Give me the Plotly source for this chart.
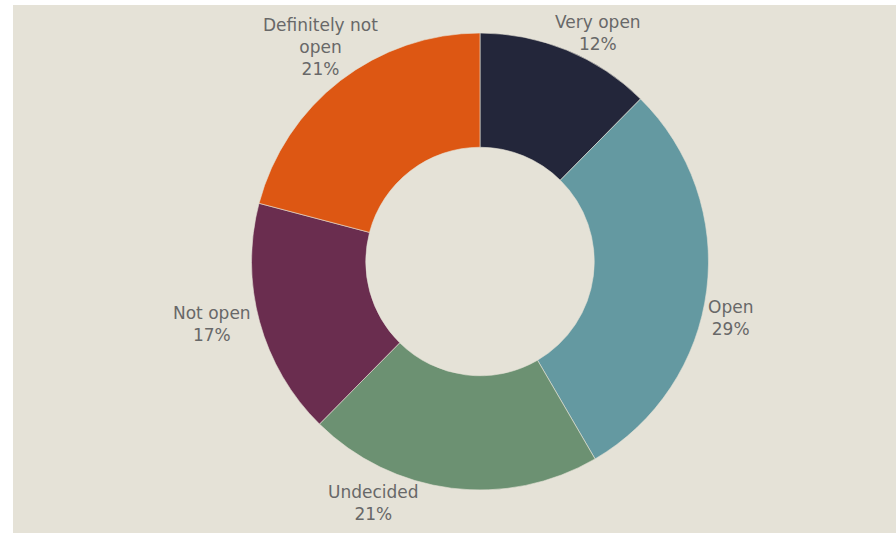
import plotly.graph_objects as go

labels = ["Very open", "Open", "Undecided", "Not open", "Definitely not<br>open"]
values = [12.4, 29.2, 20.8, 16.7, 20.9]
colors = ["#23263A", "#6499A1", "#6C9172", "#6A2D4F", "#DD5713"]

# label anchor positions in pixels (layout only)
label_px = [(598, 33), (730, 318), (373, 503), (212, 324), (320, 47)]

BG = "#E5E2D7"
W, H = 896, 533
LEFT_STRIP, TOP_STRIP = 13, 5

def px2x(x):
    return x / W

def px2y(y):
    return 1 - y / H

cx, cy, r = 480, 261.5, 228.5
half = 0.3

fig = go.Figure(go.Pie(
    labels=labels,
    values=values,
    hole=0.5,
    sort=False,
    direction="clockwise",
    rotation=0,
    marker=dict(colors=colors, line=dict(color=BG, width=0.6)),
    textinfo="none",
    showlegend=False,
    domain=dict(x=[px2x(cx) - half, px2x(cx) + half], y=[px2y(cy + r), px2y(cy - r)]),
    hoverinfo="label+percent",
))

total = sum(values)
annotations = []
for lab, val, (ax, ay) in zip(labels, values, label_px):
    annotations.append(dict(
        x=px2x(ax), y=px2y(ay), xref="paper", yref="paper",
        xanchor="center", yanchor="middle", showarrow=False,
        text=f"{lab}<br>{round(100 * val / total)}%",
        font=dict(family="DejaVu Sans, sans-serif", size=17, color="#686868"),
    ))

fig.update_layout(
    width=W, height=H,
    autosize=False,
    margin=dict(l=0, t=0, r=0, b=0, pad=0),
    paper_bgcolor=BG,
    annotations=annotations,
    shapes=[
        dict(type="rect", xref="paper", yref="paper", x0=0, x1=px2x(LEFT_STRIP), y0=0, y1=1,
             fillcolor="white", line=dict(width=0), layer="below"),
        dict(type="rect", xref="paper", yref="paper", x0=0, x1=1, y0=px2y(TOP_STRIP), y1=1,
             fillcolor="white", line=dict(width=0), layer="below"),
    ],
)

fig.write_html(
    "out.html", config={"displayModeBar": False},
    post_script=("document.body.style.margin='0';"
                 "document.body.style.background='linear-gradient(to right, white 13px, %s 13px)';"
                 "document.documentElement.style.background='linear-gradient(to right, white 13px, %s 13px)';") % (BG, BG),
)
